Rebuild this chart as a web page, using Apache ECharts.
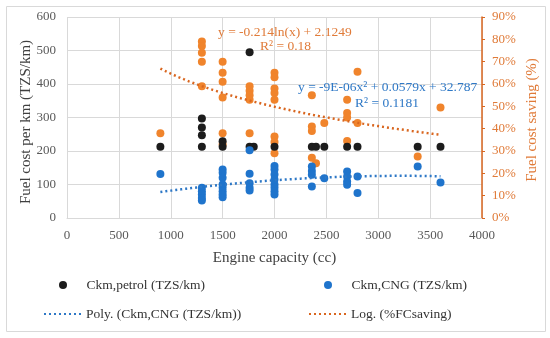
<!DOCTYPE html>
<html>
<head>
<meta charset="utf-8">
<script src="https://cdn.jsdelivr.net/npm/echarts@6/dist/echarts.min.js"></script>
<style>html,body{margin:0;padding:0;background:#fff}#c{width:550px;height:338px}</style>
</head>
<body>
<div id="c"></div>
<script>
// Engine capacity (cc) vs petrol fuel cost per km (TZS/km)
var petrolX = [900, 1300, 1300, 1300, 1300, 1500, 1500, 1760, 1760, 1800, 2000, 2360, 2400, 2480, 2700, 2800, 3380, 3600];
var petrolY = [213, 297, 270, 247, 213, 229, 213, 495, 213, 213, 213, 213, 213, 213, 213, 213, 213, 213];
// Engine capacity vs CNG fuel cost per km (TZS/km)
var cngX = [900, 1300, 1300, 1300, 1300, 1300, 1500, 1500, 1500, 1500, 1500, 1500, 1500, 1500, 1760, 1760, 1760, 1760, 1760, 2000, 2000, 2000, 2000, 2000, 2000, 2000, 2000, 2360, 2360, 2360, 2360, 2480, 2700, 2700, 2700, 2700, 2800, 2800, 3380, 3600];
var cngY = [131, 90, 80, 70, 60, 52, 145, 135, 120, 100, 90, 80, 70, 62, 202, 132, 104, 90, 82, 155, 145, 130, 115, 100, 90, 80, 70, 154, 140, 129, 94, 119, 139, 124, 109, 99, 124, 75, 154, 106];
// Engine capacity vs fuel cost saving (%)
var saveX = [900, 1300, 1300, 1300, 1300, 1300, 1500, 1500, 1500, 1500, 1500, 1500, 1760, 1760, 1760, 1760, 1760, 2000, 2000, 2000, 2000, 2000, 2000, 2000, 2000, 2360, 2360, 2360, 2360, 2400, 2480, 2700, 2700, 2700, 2700, 2800, 2800, 3380, 3600];
var saveY = [38, 79, 77, 74, 70, 59, 70, 65, 61, 54, 38, 33, 59, 57, 55, 53, 38, 65, 63, 58, 56, 53, 36.5, 34, 29, 55, 41, 39, 27, 24.5, 42.5, 53, 47, 45, 34.5, 65.5, 42.5, 27.5, 49.5];
// Trendline equations shown on the chart
var logCoef = [-0.214, 2.1249];           // y = a ln(x) + b  (fraction)
var polyCoef = [-9e-6, 0.0579, 32.787];    // y = a x^2 + b x + c
var trendRange = [900, 3600];
var xTicks = [0, 4000, 500];
var yLeftTicks = [0, 600, 100];
var yRightTicks = [0, 90, 10];

var legendNames = ['Ckm,petrol (TZS/km)', 'Ckm,CNG (TZS/km)', 'Poly. (Ckm,CNG (TZS/km))', 'Log. (%FCsaving)'];

function pairs(xs, ys) { return xs.map(function (x, i) { return [x, ys[i]]; }); }
var logLine = [], polyLine = [];
for (var x = trendRange[0]; x <= trendRange[1]; x += 25) {
  logLine.push([x, (logCoef[0] * Math.log(x) + logCoef[1]) * 100]);
  polyLine.push([x, polyCoef[0] * x * x + polyCoef[1] * x + polyCoef[2]]);
}

var FONT = '"Liberation Serif", "Times New Roman", serif';
var BLACK = '#1c1c1c', BLUE = '#1f74cc', ORANGE = '#f0842c', DORANGE = '#d9661f', LBLUE = '#2e78c6';
var TXT_OR = '#e07b39';

var chart = echarts.init(document.getElementById('c'), null, { renderer: 'canvas' });
function leg(name, left, top, icon, hideSym) {
  var d = { name: name };
  if (icon) d.icon = icon;
  if (hideSym) d.itemStyle = { opacity: 0 };
  return {
    data: [d], left: left, top: top, orient: 'horizontal', padding: 0,
    itemWidth: 37, itemHeight: 8, itemGap: 0, selectedMode: false,
    textStyle: { fontFamily: FONT, fontSize: 13.5, color: '#333333' }
  };
}
chart.setOption({
  animation: false,
  textStyle: { fontFamily: FONT },
  grid: { left: 67, right: 68, top: 17, bottom: 120 },
  legend: [
    leg(legendNames[0], 59, 278, 'circle'),
    leg(legendNames[1], 324, 278, 'circle'),
    leg(legendNames[2], 43, 307, null, true),
    leg(legendNames[3], 308, 307, null, true)
  ],
  xAxis: {
    type: 'value', min: xTicks[0], max: xTicks[1], interval: xTicks[2],
    name: 'Engine capacity (cc)', nameLocation: 'middle', nameGap: 33,
    nameTextStyle: { fontFamily: FONT, fontSize: 15, color: '#404040' },
    axisLine: { show: true, lineStyle: { color: '#d9d9d9' } },
    axisTick: { show: false },
    axisLabel: { fontFamily: FONT, fontSize: 13, color: '#595959', margin: 11, formatter: function (v) { return String(v); } },
    splitLine: { show: true, lineStyle: { color: '#d9d9d9' } }
  },
  yAxis: [{
    type: 'value', min: yLeftTicks[0], max: yLeftTicks[1], interval: yLeftTicks[2], position: 'left',
    name: 'Fuel cost per km (TZS/km)', nameLocation: 'middle', nameGap: 33, nameRotate: 90, nameMoveOverlap: false,
    nameTextStyle: { fontFamily: FONT, fontSize: 15, color: '#404040', padding: [0, 9, 0, 0] },
    axisLine: { show: false }, axisTick: { show: false },
    axisLabel: { fontFamily: FONT, fontSize: 13, color: '#595959', margin: 11 },
    splitLine: { show: true, lineStyle: { color: '#d9d9d9' } }
  }, {
    type: 'value', min: yRightTicks[0], max: yRightTicks[1], interval: yRightTicks[2], position: 'right',
    name: 'Fuel cost saving (%)', nameLocation: 'middle', nameGap: 43, nameRotate: 90, nameMoveOverlap: false,
    nameTextStyle: { fontFamily: FONT, fontSize: 15, color: TXT_OR, padding: [0, 5, 0, 0] },
    axisLine: { show: true, lineStyle: { color: DORANGE, width: 1.5 } },
    axisTick: { show: true, inside: false, length: 3, lineStyle: { color: DORANGE } },
    axisLabel: { fontFamily: FONT, fontSize: 13, color: TXT_OR, margin: 10, formatter: '{value}%' },
    splitLine: { show: false }
  }],
  series: [
    { name: '%FCsaving', type: 'scatter', yAxisIndex: 1, symbolSize: 8, data: pairs(saveX, saveY), itemStyle: { color: ORANGE, opacity: 1 }, z: 2 },
    { name: legendNames[0], type: 'scatter', symbolSize: 8, data: pairs(petrolX, petrolY), itemStyle: { color: BLACK, opacity: 1 }, z: 3 },
    { name: legendNames[1], type: 'scatter', symbolSize: 8, data: pairs(cngX, cngY), itemStyle: { color: BLUE, opacity: 1 }, z: 4 },
    { name: legendNames[2], type: 'line', symbol: 'none', data: polyLine, lineStyle: { color: LBLUE, width: 2.5, type: [2, 3] }, itemStyle: { color: LBLUE }, z: 5 },
    { name: legendNames[3], type: 'line', yAxisIndex: 1, symbol: 'none', data: logLine, lineStyle: { color: DORANGE, width: 2.5, type: [2, 3] }, itemStyle: { color: DORANGE }, z: 5 }
  ],
  graphic: [
    { type: 'rect', shape: { x: 6.5, y: 6.5, width: 539, height: 325 }, style: { fill: 'none', stroke: '#d9d9d9', lineWidth: 1 }, silent: true, z: -1 },
    { type: 'text', left: 218, top: 25, style: { text: 'y = -0.214ln(x) + 2.1249', font: '13.5px ' + FONT, fill: TXT_OR }, z: 10 },
    { type: 'text', left: 260, top: 39, style: { text: 'R² = 0.18', font: '13.5px ' + FONT, fill: TXT_OR }, z: 10 },
    { type: 'text', left: 298, top: 80, style: { text: 'y = -9E-06x² + 0.0579x + 32.787', font: '13.5px ' + FONT, fill: LBLUE }, z: 10 },
    { type: 'text', left: 355, top: 96, style: { text: 'R² = 0.1181', font: '13.5px ' + FONT, fill: LBLUE }, z: 10 }
  ]
});
</script>
</body>
</html>
